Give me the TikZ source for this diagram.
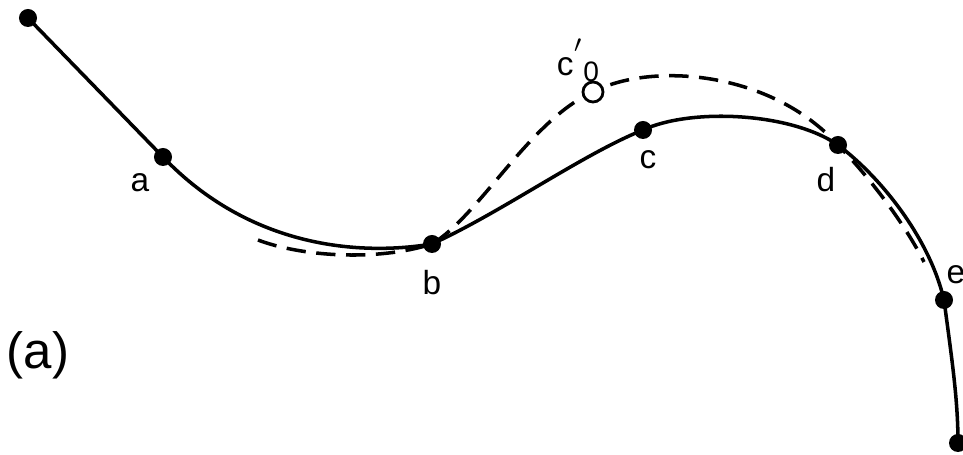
\documentclass[tikz,border=0pt]{standalone}
\usepackage{fontspec}
\setmainfont{Liberation Sans}
\usetikzlibrary{backgrounds}

\begin{document}
\begin{tikzpicture}[x=0.01cm, y=-0.01cm,
  dot/.style={circle, fill=black, inner sep=0pt, minimum size=0.18cm},
  hollow/.style={circle, draw=black, fill=white, line width=0.8pt, inner sep=0pt, minimum size=0.2cm},
  lbl/.style={font=\fontsize{9.5}{11}\selectfont, inner sep=0pt},
  curve/.style={line width=1pt},
  dashcurve/.style={line width=1pt, dash pattern=on 5.5pt off 3pt}]
\useasboundingbox (0,0) rectangle (963,455);

% Points on the curve
\node[dot] (s) at (28,18) {};
\node[dot] (a) at (163,157) {};
\node[dot] (b) at (432,244) {};
\node[dot] (c) at (643,130) {};
\node[dot] (d) at (838,145) {};
\node[dot] (e) at (944,300) {};
\node[dot] (f) at (958,443) {};
\node[hollow] (c0) at (593,92) {};
\coordinate (p0) at (258,240);
\coordinate (p1) at (924,262);

% Labels
\node[lbl] (la) at (140,183) {a};
\node[lbl] (lb) at (432,283) {b};
\node[lbl] (lc) at (648,160) {c};
\node[lbl] (ld) at (826,180) {d};
\node[lbl] (le) at (956,275) {e};
\node[lbl] (lc0) at (578,60) {c\raisebox{0.55ex}{$'$}\raisebox{-0.35ex}{\footnotesize 0}};
\node[font=\fontsize{14.5}{16}\selectfont, inner sep=0pt] (tag) at (38,355) {(a)};

\begin{scope}[on background layer]
% Solid curve
\draw[curve] (s.center) -- (a.center)
  .. controls (250,248) and (360,256) .. (b.center)
  .. controls (502,212) and (583,154) .. (c.center)
  .. controls (690,108) and (790,112) .. (d.center)
  .. controls (883,179) and (930,240) .. (e.center)
  .. controls (952,360) and (958,400) .. (f.center);
% Dashed curve
\draw[dashcurve] (p0) .. controls (300,256) and (375,262) .. (b.center)
  .. controls (480,215) and (530,120) .. (c0.center)
  .. controls (650,62) and (770,70) .. (d.center)
  .. controls (872,180) and (906,226) .. (p1);
\end{scope}
\end{tikzpicture}
\end{document}
